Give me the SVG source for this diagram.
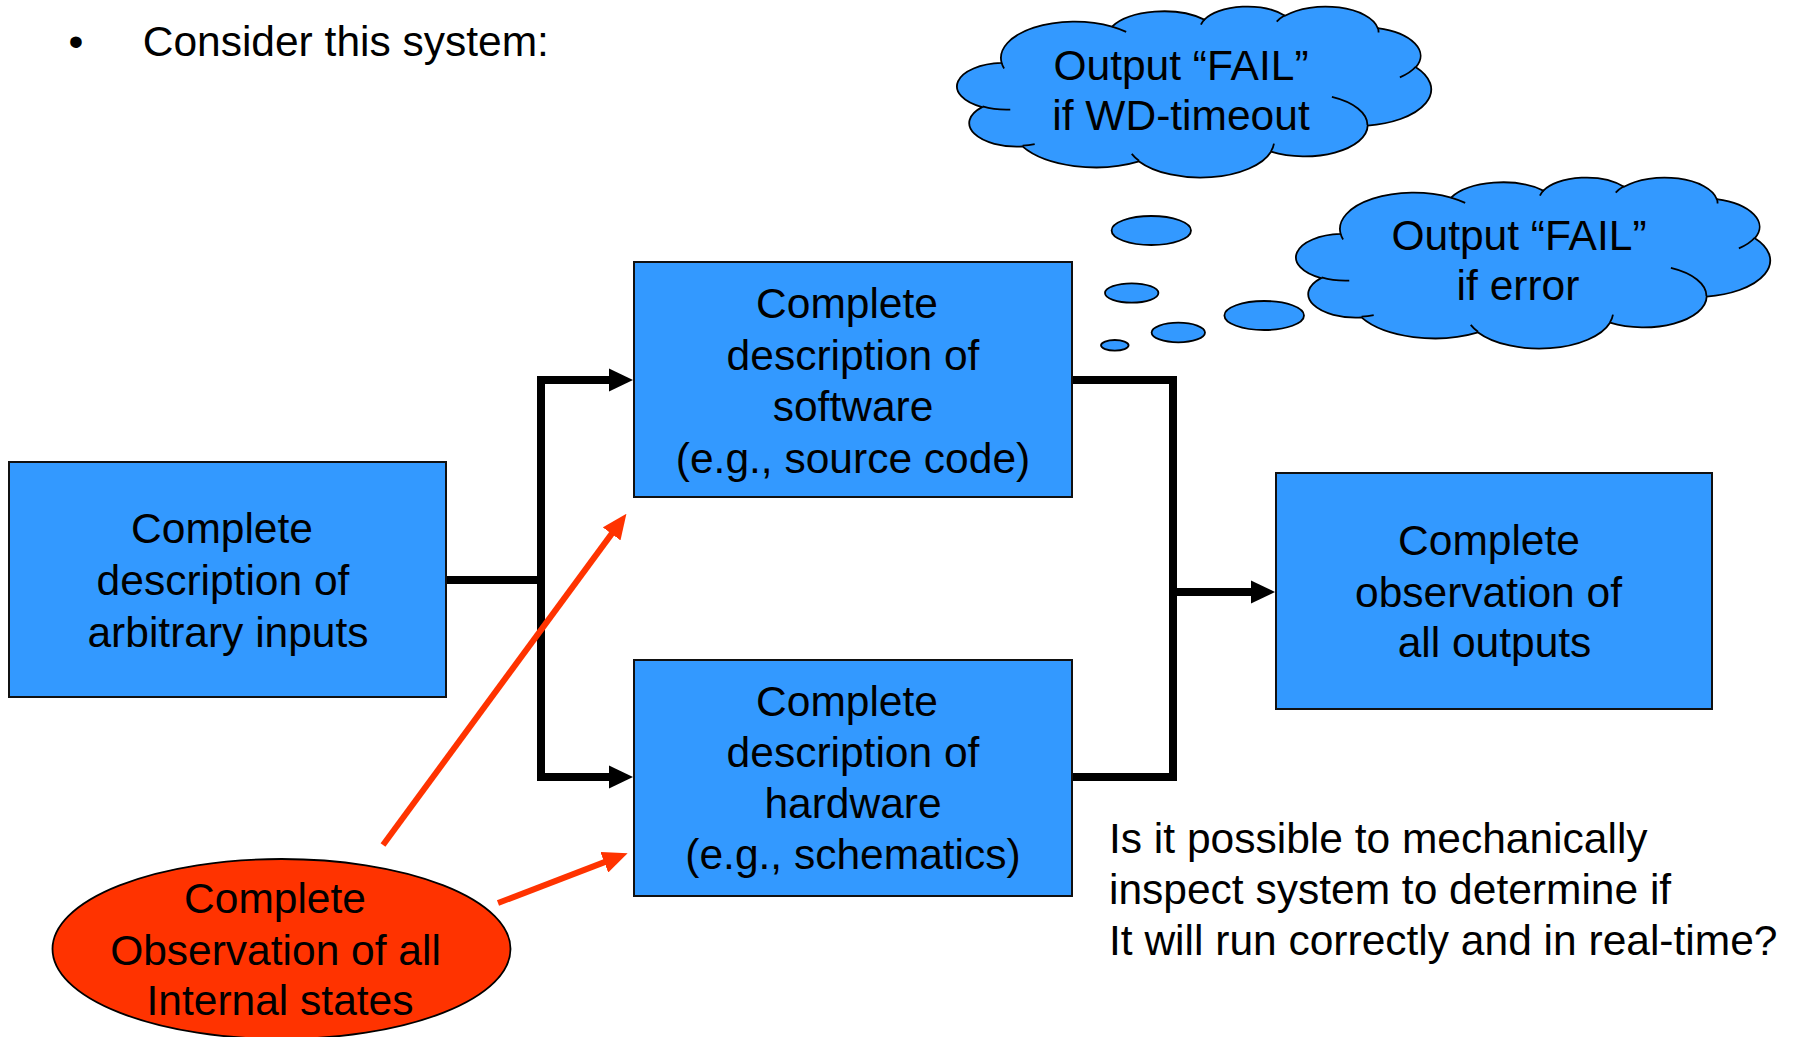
<svg xmlns="http://www.w3.org/2000/svg" xmlns:xlink="http://www.w3.org/1999/xlink" width="1796" height="1037" viewBox="0 0 1796 1037">
  <style>
    text { font-family: "Liberation Sans", Arial, sans-serif; font-size: 42.5px; fill: #000; }
    .mid { text-anchor: middle; }
    .box { fill: #3399FF; stroke: #111; stroke-width: 2; }
    .bubble { fill: #3399FF; stroke: #000; stroke-width: 1.8; }
    .cloudfill { fill: #3399FF; stroke: #000; stroke-width: 1.8; vector-effect: non-scaling-stroke; }
    .cloudline { fill: none; stroke: #000; stroke-width: 1.8; vector-effect: non-scaling-stroke; }
    .conn { fill: none; stroke: #000; stroke-width: 8; stroke-linejoin: miter; }
    .red { fill: none; stroke: #FF3300; stroke-width: 6; }
  </style>
  <defs>
    <marker id="hb" markerUnits="userSpaceOnUse" markerWidth="24" markerHeight="24" viewBox="0 0 24 24" refX="1" refY="12" orient="auto">
      <path d="M0,0.5 L24,12 L0,23.5 Z" fill="#000"/>
    </marker>
    <marker id="hr" markerUnits="userSpaceOnUse" markerWidth="25" markerHeight="22" viewBox="0 0 25 22" refX="1" refY="11" orient="auto">
      <path d="M0,0 L25,11 L0,22 Z" fill="#FF3300"/>
    </marker>
    <g id="cloud">
      <path class="cloudfill" d="M3900,14370 A6753,9190 0 0 1 14004.6,5201.6 A5333,7267 0 0 1 22455.1,3432.1 A4365,5945 0 0 1 29831.8,2480 A4857,6595 0 0 1 38317.3,5574.6 A5333,7273 0 0 1 41817.6,15458.6 A6775,9220 0 0 1 37404.4,30203.5 A5785,7867 0 0 1 28556.2,36813.9 A6752,9215 0 0 1 16481.4,39266.3 A7720,10543 0 0 1 5804.6,35470.7 A4360,5918 0 0 1 2112.2,25550.5 A4345,5945 0 0 1 3900,14370 Z"/>
      <path class="cloudline" d="M4693,26177 A4345,5945 0 0 1 2159.6,25379.9 M6928,34899 A4360,5918 0 0 1 5819.3,35280.6 M16478,39090 A6752,9215 0 0 1 15809.5,37348.7 M28827,34751 A6752,9215 0 0 1 28560.4,36660 M34129,22954 A5785,7867 0 0 1 37380.4,30089.6 M41798,15354 A5333,7273 0 0 1 40350.4,18029.2 M38324,5426 A4857,6595 0 0 1 38400.4,6689.7 M29078,3952 A4857,6595 0 0 1 29819.7,2340 M22141,4720 A4365,5945 0 0 1 22500.1,3330.5 M14000,5192 A6753,9190 0 0 1 15301,6541.7 M4127,15789 A6753,9190 0 0 1 3900.3,14370.8"/>
    </g>
  </defs>

  <rect width="1796" height="1037" fill="#fff"/>

  <g id="title">
    <text x="68.5" y="55.5">•</text>
    <text x="142.7" y="55.5">Consider this system:</text>
  </g>

  <g id="connectors">
    <path class="conn" d="M446,580 H545"/>
    <path class="conn" d="M541,580 V380 H610" marker-end="url(#hb)"/>
    <path class="conn" d="M541,580 V777 H610" marker-end="url(#hb)"/>
    <path class="conn" d="M1072,380 H1173 V777 H1072"/>
    <path class="conn" d="M1173,592 H1252" marker-end="url(#hb)"/>
    <path class="red" d="M383,845 L612.2,533.1" marker-end="url(#hr)"/>
    <path class="red" d="M498,903 L605.2,861.9" marker-end="url(#hr)"/>
  </g>

  <g id="inputs">
    <rect class="box" x="9" y="462" width="437" height="235"/>
    <text x="222" y="543" class="mid">Complete</text>
    <text x="223" y="595" class="mid">description of</text>
    <text x="228" y="647" class="mid">arbitrary inputs</text>
  </g>

  <g id="software">
    <rect class="box" x="634" y="262" width="438" height="235"/>
    <text x="847" y="318" class="mid">Complete</text>
    <text x="853" y="369.5" class="mid">description of</text>
    <text x="853" y="421" class="mid">software</text>
    <text x="853" y="472.5" class="mid">(e.g., source code)</text>
  </g>

  <g id="hardware">
    <rect class="box" x="634" y="660" width="438" height="236"/>
    <text x="847" y="716" class="mid">Complete</text>
    <text x="853" y="767" class="mid">description of</text>
    <text x="853" y="818" class="mid">hardware</text>
    <text x="853" y="869" class="mid">(e.g., schematics)</text>
  </g>

  <g id="outputs">
    <rect class="box" x="1276" y="473" width="436" height="236"/>
    <text x="1489" y="555" class="mid">Complete</text>
    <text x="1488.5" y="606.5" class="mid">observation of</text>
    <text x="1494.5" y="657" class="mid">all outputs</text>
  </g>

  <g id="internal-states">
    <ellipse cx="281.5" cy="949" rx="229" ry="90" fill="#FF3300" stroke="#000" stroke-width="1.8"/>
    <text x="275" y="913" class="mid">Complete</text>
    <text x="275.5" y="965" class="mid">Observation of all</text>
    <text x="280" y="1015" class="mid">Internal states</text>
  </g>

  <g id="thought-bubbles">
    <ellipse class="bubble" cx="1151.3" cy="230.5" rx="39.7" ry="14.5"/>
    <ellipse class="bubble" cx="1131.7" cy="293" rx="26.7" ry="9.7"/>
    <ellipse class="bubble" cx="1178.3" cy="332.5" rx="26.7" ry="9.8"/>
    <ellipse class="bubble" cx="1114.8" cy="345.3" rx="13.8" ry="5.3"/>
    <ellipse class="bubble" cx="1264.2" cy="315.5" rx="39.8" ry="14.5"/>
  </g>

  <g id="cloud-timeout">
    <use xlink:href="#cloud" href="#cloud" transform="translate(959,6) scale(0.010926,0.003958)"/>
    <text x="1181" y="80" class="mid">Output “FAIL”</text>
    <text x="1181" y="130" class="mid">if WD-timeout</text>
  </g>

  <g id="cloud-error">
    <use xlink:href="#cloud" href="#cloud" transform="translate(1298,177) scale(0.010926,0.003958)"/>
    <text x="1519" y="249.5" class="mid">Output “FAIL”</text>
    <text x="1518" y="300" class="mid">if error</text>
  </g>

  <g id="question">
    <text x="1109" y="852.5">Is it possible to mechanically</text>
    <text x="1109" y="903.5">inspect system to determine if</text>
    <text x="1109" y="955">It will run correctly and in real-time?</text>
  </g>
</svg>
